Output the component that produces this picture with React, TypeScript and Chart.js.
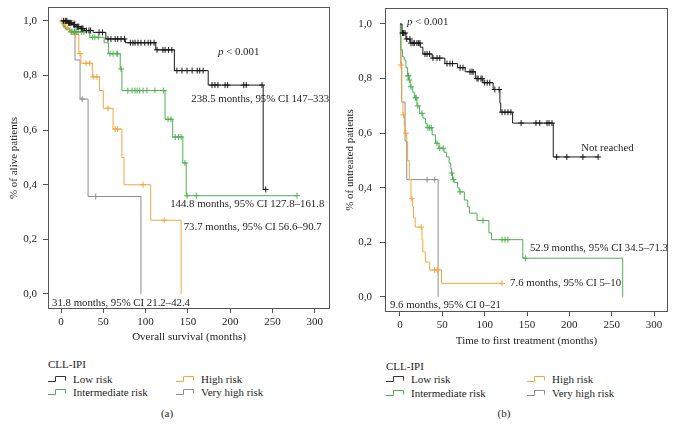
import React, { useEffect, useRef } from "react";
import { Chart, registerables } from "chart.js";

Chart.register(...registerables);

const FONT = '"Liberation Serif", "DejaVu Serif", serif';
const TEXT = "#1e1e1e";

// ---- shared labels / ticks ----
const seriesNames = ["Low risk", "Intermediate risk", "High risk", "Very high risk"];
const seriesColors = ["#1a1a1a", "#4fb053", "#f5a640", "#8e8e8e"];
const legendIconColors = ["#333333", "#4fb053", "#f5a640", "#8e8e8e"];
const xTickValues = [0, 50, 100, 150, 200, 250, 300];
const yTickValues = [0, 0.2, 0.4, 0.6, 0.8, 1.0];

// ---- Panel (a): overall survival ----
const osLowTime = [0, 8, 14, 18, 23, 28, 38, 53, 76, 112, 134, 174, 239];
const osLowSurv = [1, 0.993, 0.986, 0.979, 0.972, 0.965, 0.958, 0.934, 0.92, 0.894, 0.818, 0.765, 0.383];
const osLowCensor = [3, 5, 6, 7, 9, 10, 11, 12, 15, 16, 19, 20, 21, 24, 25, 26, 30, 33, 35, 45, 49, 55.5, 59, 64, 67, 71, 75, 82, 85, 87.5, 91, 94.5, 99, 103, 106, 110, 113.5, 120.5, 123, 127, 131, 137, 143, 149, 155, 161, 164, 168, 178.5, 182, 185.5, 194, 197, 216, 219, 237.6, 242];

const osIntTime = [0, 2.4, 5, 10.6, 34, 51, 56, 70, 72, 123, 132, 144, 148];
const osIntSurv = [1, 0.98, 0.97, 0.96, 0.94, 0.92, 0.88, 0.824, 0.745, 0.64, 0.575, 0.48, 0.36];
const osIntCensor = [12, 14, 16, 18, 20, 24, 27, 37, 40, 44, 58, 61.5, 66, 67, 71, 79, 84, 87.5, 90, 93, 97, 101.6, 111, 121, 126.5, 130, 135, 139, 142, 146.5, 149, 160, 279];

const osHighTime = [0, 2, 5, 10, 15, 21, 23.5, 37, 45.5, 50, 61.5, 72, 74.5, 106, 142];
const osHighSurv = [1, 0.99, 0.975, 0.96, 0.95, 0.88, 0.845, 0.795, 0.745, 0.68, 0.604, 0.5, 0.4, 0.27, 0];
const osHighCensor = [1, 3, 4, 6, 8, 12, 17, 22.5, 29.5, 34, 38, 42.5, 55.5, 64, 67, 97, 122];

const osVhighTime = [0, 16.5, 22.5, 32, 94.5];
const osVhighSurv = [1, 0.857, 0.714, 0.357, 0];
const osVhighCensor = [25, 41];

// ---- Panel (b): time to first treatment ----
const ttftLowTime = [0, 2.4, 7, 12, 24, 27, 38, 53, 68, 77, 89, 98, 110, 118, 119, 133, 181];
const ttftLowSurv = [1, 0.967, 0.945, 0.93, 0.915, 0.89, 0.875, 0.855, 0.84, 0.825, 0.8, 0.785, 0.76, 0.71, 0.677, 0.637, 0.513];
const ttftLowCensor = [3, 4, 5.9, 8, 11.8, 13, 15.4, 17, 20, 22, 23.6, 29.5, 32, 35, 39, 43.7, 47, 55.5, 59, 62, 71, 74.4, 82.7, 85, 86.4, 91, 92.3, 95.6, 97, 100, 103, 106, 112, 117, 120.5, 124, 127.5, 131, 143, 160.6, 165, 173.6, 176, 179.5, 185, 197, 216, 234];

const ttftIntTime = [0, 0.5, 1, 3, 5, 7, 9, 10.5, 12, 15, 17, 20, 23, 27, 30, 32, 38, 42, 46, 52, 55, 58, 60, 61, 62, 64, 68, 70, 76, 80, 82, 91, 105, 108, 145, 263];
const ttftIntSurv = [1, 0.95, 0.905, 0.88, 0.868, 0.84, 0.81, 0.795, 0.77, 0.75, 0.73, 0.7, 0.673, 0.655, 0.636, 0.62, 0.594, 0.563, 0.545, 0.53, 0.513, 0.49, 0.47, 0.454, 0.43, 0.42, 0.4, 0.385, 0.355, 0.33, 0.307, 0.28, 0.235, 0.21, 0.142, 0];
const ttftIntCensor = [9.5, 10, 11, 13, 18.5, 19, 21, 26, 33, 35, 37, 43.7, 47, 51, 61, 63, 71, 98, 120.5, 124, 127.5, 148];

const ttftHighTime = [0, 0.5, 1, 2, 3.5, 5, 6, 8, 9, 11, 13, 15, 16, 18, 26, 27, 30, 35, 49];
const ttftHighSurv = [1, 0.95, 0.85, 0.714, 0.667, 0.63, 0.6, 0.57, 0.5, 0.43, 0.36, 0.33, 0.29, 0.256, 0.21, 0.165, 0.128, 0.099, 0.05];
const ttftHighCensor = [1, 4, 7, 14, 25, 41, 44, 120.5];

const ttftVhighTime = [0, 1, 2, 6, 8, 45];
const ttftVhighSurv = [1, 0.857, 0.714, 0.571, 0.43, 0];
const ttftVhighCensor = [32, 41];

// ---- annotation texts (data coordinates) ----
const osNotes = [
  { x: 185.6, y: 0.886, italic: "p", text: " < 0.001" },
  { x: 154, y: 0.714, text: "238.5 months, 95% CI 147\u2013333" },
  { x: 129, y: 0.33, text: "144.8 months, 95% CI 127.8\u2013161.8" },
  { x: 145, y: 0.245, text: "73.7 months, 95% CI 56.6\u201390.7" },
  { x: -10.6, y: -0.033, text: "31.8 months, 95% CI 21.2\u201342.4" },
];
const ttftNotes = [
  { x: 8.3, y: 1.007, italic: "p", text: " < 0.001" },
  { x: 214, y: 0.546, text: "Not reached" },
  { x: 153.5, y: 0.18, text: "52.9 months, 95% CI 34.5\u201371.3" },
  { x: 130, y: 0.051, text: "7.6 months, 95% CI 5\u201310" },
  { x: -11.8, y: -0.029, text: "9.6 months, 95% CI 0\u201321" },
];

type Curve = { time: number[]; surv: number[]; censor: number[] };

function survAt(c: Curve, t: number) {
  let s = c.surv[0];
  for (let i = 0; i < c.time.length; i++) if (c.time[i] <= t) s = c.surv[i];
  return s;
}

function stepPoints(c: Curve) {
  const pts = c.time.map((t, i) => ({ x: t, y: c.surv[i] }));
  const lastC = Math.max(...c.censor);
  if (lastC > c.time[c.time.length - 1]) pts.push({ x: lastC, y: c.surv[c.surv.length - 1] });
  return pts;
}

const textPlugin = {
  id: "kmText",
  afterDatasetsDraw(chart: any, _args: any, opts: any) {
    const { ctx, chartArea, scales } = chart;
    ctx.save();
    ctx.beginPath();
    ctx.rect(chartArea.left, chartArea.top, chartArea.right - chartArea.left, chartArea.bottom - chartArea.top);
    ctx.clip();
    ctx.fillStyle = TEXT;
    ctx.textBaseline = "middle";
    ctx.textAlign = "left";
    for (const n of opts.items || []) {
      let x = scales.x.getPixelForValue(n.x);
      const y = scales.y.getPixelForValue(n.y);
      if (n.italic) {
        ctx.font = `italic 11px ${FONT}`;
        ctx.fillText(n.italic, x, y);
        x += ctx.measureText(n.italic).width;
      }
      ctx.font = `10.8px ${FONT}`;
      ctx.fillText(n.text, x, y);
    }
    ctx.restore();
  },
};

const framePlugin = {
  id: "kmFrame",
  afterDraw(chart: any) {
    const { ctx, chartArea } = chart;
    ctx.save();
    ctx.strokeStyle = "#555555";
    ctx.lineWidth = 1;
    ctx.strokeRect(
      Math.round(chartArea.left) + 0.5,
      Math.round(chartArea.top) + 0.5,
      Math.round(chartArea.right - chartArea.left) - 1,
      Math.round(chartArea.bottom - chartArea.top) - 1
    );
    ctx.restore();
  },
};

type PanelCfg = {
  curves: Curve[];
  notes: any[];
  xTitle: string;
  yTitle: string;
  xMin: number;
  xMax: number;
  yMin: number;
  yMax: number;
  width: number;
  height: number;
  padTop: number;
  padRight: number;
  xAxisHeight: number;
  yTitlePad: number;
  yTickPad: number;
};

function zeroPad(s: any) {
  s.paddingTop = 0;
  s.paddingBottom = 0;
  s.paddingLeft = 0;
  s.paddingRight = 0;
}

function KMChart({ cfg, left }: { cfg: PanelCfg; left: number }) {
  const ref = useRef<HTMLCanvasElement | null>(null);
  useEffect(() => {
    if (!ref.current) return;
    const datasets: any[] = [];
    cfg.curves.forEach((c, i) => {
      datasets.push({
        label: seriesNames[i],
        data: stepPoints(c),
        borderColor: seriesColors[i],
        borderWidth: 1,
        stepped: true,
        pointRadius: 0,
        fill: false,
        order: i,
      });
    });
    cfg.curves.forEach((c, i) => {
      datasets.push({
        label: seriesNames[i] + " censored",
        data: c.censor.map((t) => ({ x: t, y: survAt(c, t) })),
        showLine: false,
        pointStyle: "cross",
        pointRadius: 3,
        pointBorderWidth: 1,
        borderColor: seriesColors[i],
        backgroundColor: seriesColors[i],
        order: i,
      });
    });
    const font = { family: FONT, size: 11 };
    const chart = new Chart(ref.current, {
      type: "line",
      data: { datasets },
      options: {
        animation: false,
        responsive: false,
        devicePixelRatio: 1,
        layout: { padding: { left: 0, top: cfg.padTop, right: cfg.padRight, bottom: 0 } },
        plugins: {
          legend: { display: false },
          tooltip: { enabled: false },
          kmText: { items: cfg.notes },
        } as any,
        scales: {
          x: {
            type: "linear",
            min: cfg.xMin,
            max: cfg.xMax,
            afterBuildTicks: (s: any) => {
              s.ticks = xTickValues.map((v) => ({ value: v }));
            },
            afterFit: (s: any) => {
              s.height = cfg.xAxisHeight;
              zeroPad(s);
            },
            ticks: { font, color: TEXT, padding: 3, maxRotation: 0, autoSkip: false },
            grid: { display: true, drawOnChartArea: false, drawTicks: true, tickLength: 4, color: "#555555" },
            border: { display: false },
            title: { display: true, text: cfg.xTitle, font, color: TEXT, padding: { top: 0, bottom: 0 } },
          },
          y: {
            type: "linear",
            min: cfg.yMin,
            max: cfg.yMax,
            afterBuildTicks: (s: any) => {
              s.ticks = yTickValues.map((v) => ({ value: v }));
            },
            afterFit: (s: any) => {
              s.width = 48;
              zeroPad(s);
            },
            ticks: {
              font,
              color: TEXT,
              padding: cfg.yTickPad,
              callback: (v: any) => Number(v).toFixed(1).replace(".", ","),
            },
            grid: { display: true, drawOnChartArea: false, drawTicks: true, tickLength: 5, color: "#555555" },
            border: { display: false },
            title: { display: true, text: cfg.yTitle, font, color: TEXT, padding: { top: cfg.yTitlePad, bottom: 0 } },
          },
        },
      } as any,
      plugins: [textPlugin, framePlugin],
    });
    return () => chart.destroy();
  }, [cfg]);
  return (
    <canvas
      ref={ref}
      width={cfg.width}
      height={cfg.height}
      style={{ position: "absolute", left, top: 0, width: cfg.width, height: cfg.height }}
    />
  );
}

const panelA: PanelCfg = {
  curves: [
    { time: osLowTime, surv: osLowSurv, censor: osLowCensor },
    { time: osIntTime, surv: osIntSurv, censor: osIntCensor },
    { time: osHighTime, surv: osHighSurv, censor: osHighCensor },
    { time: osVhighTime, surv: osVhighSurv, censor: osVhighCensor },
  ],
  notes: osNotes,
  xTitle: "Overall survival (months)",
  yTitle: "% of alive patients",
  xMin: -15.4,
  xMax: 318,
  yMin: -0.055,
  yMax: 1.051,
  width: 337,
  height: 344,
  padTop: 7,
  padRight: 7,
  xAxisHeight: 35,
  yTitlePad: 7.4,
  yTickPad: 6,
};

const panelB: PanelCfg = {
  curves: [
    { time: ttftLowTime, surv: ttftLowSurv, censor: ttftLowCensor },
    { time: ttftIntTime, surv: ttftIntSurv, censor: ttftIntCensor },
    { time: ttftHighTime, surv: ttftHighSurv, censor: ttftHighCensor },
    { time: ttftVhighTime, surv: ttftVhighSurv, censor: ttftVhighCensor },
  ],
  notes: ttftNotes,
  xTitle: "Time to first treatment (months)",
  yTitle: "% of untreated patients",
  xMin: -17.7,
  xMax: 316.5,
  yMin: -0.055,
  yMax: 1.0586,
  width: 338,
  height: 348,
  padTop: 8,
  padRight: 7,
  xAxisHeight: 36,
  yTitlePad: 6.4,
  yTickPad: 8,
};

function StepIcon({ color }: { color: string }) {
  return (
    <svg width={19} height={8} style={{ display: "block" }}>
      <path d="M0 6.5 H7.5 V1.5 H17.5 V5.5" stroke={color} strokeWidth={1} fill="none" />
    </svg>
  );
}

function Label({ x, cy, children, center }: any) {
  return (
    <div
      style={{
        position: "absolute",
        left: center ? x - 40 : x,
        width: center ? 80 : undefined,
        textAlign: center ? "center" : "left",
        top: cy - 7,
        height: 14,
        lineHeight: "14px",
        fontSize: 11,
        whiteSpace: "nowrap",
      }}
    >
      {children}
    </div>
  );
}

function Legend({ x0, titleY, row1, row2, col2Icon, textOff }: any) {
  const items = [
    { i: 0, ix: x0, y: row1 },
    { i: 1, ix: x0, y: row2 },
    { i: 2, ix: col2Icon, y: row1 },
    { i: 3, ix: col2Icon, y: row2 },
  ];
  return (
    <>
      <Label x={x0} cy={titleY}>CLL-IPI</Label>
      {items.map((it) => (
        <React.Fragment key={it.i}>
          <div style={{ position: "absolute", left: it.ix, top: it.y - 4 }}>
            <StepIcon color={legendIconColors[it.i]} />
          </div>
          <Label x={it.ix + textOff} cy={it.y}>
            {seriesNames[it.i]}
          </Label>
        </React.Fragment>
      ))}
    </>
  );
}

export default function App() {
  return (
    <div
      style={{
        position: "absolute",
        left: 0,
        top: 0,
        width: 675,
        height: 436,
        background: "#ffffff",
        fontFamily: FONT,
        color: TEXT,
        overflow: "hidden",
      }}
    >
      <KMChart cfg={panelA} left={0} />
      <KMChart cfg={panelB} left={337} />
      <Legend x0={48} titleY={364} row1={379} row2={392} col2Icon={176} textOff={25} />
      <Legend x0={386} titleY={366} row1={379} row2={393} col2Icon={527} textOff={25} />
      <Label x={167} cy={413} center>(a)</Label>
      <Label x={504} cy={413} center>(b)</Label>
    </div>
  );
}
